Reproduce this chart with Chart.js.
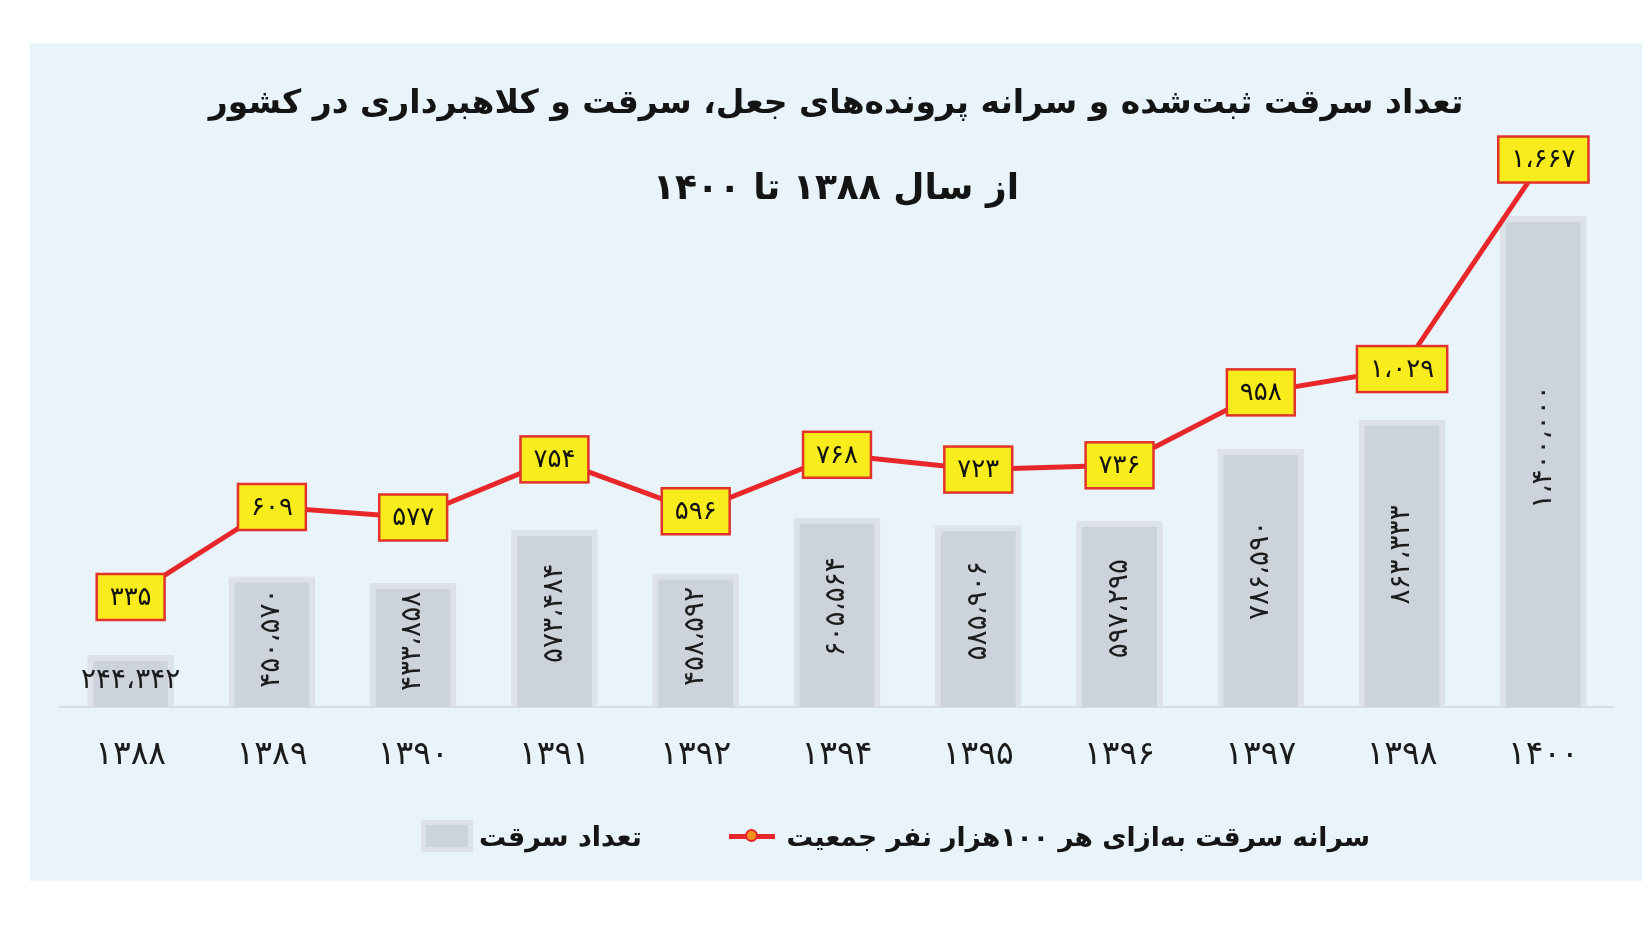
<!DOCTYPE html>
<html lang="fa">
<head>
<meta charset="utf-8">
<title>تعداد سرقت ثبت‌شده</title>
<script src="https://cdn.jsdelivr.net/npm/chart.js@4.4.1/dist/chart.umd.min.js"></script>
<style>
  html, body { margin: 0; padding: 0; background: #fff; }
  body { width: 1649px; height: 930px; position: relative; overflow: hidden; font-family: "DejaVu Sans", sans-serif; }
  #panel { position: absolute; left: 30px; top: 43px; width: 1612px; height: 838px; background: #e8f3fa; }
  #chartBox { position: absolute; left: 0; top: 0; width: 1612px; height: 838px; }
  .title { position: absolute; left: 0; width: 1612px; text-align: center; font-weight: bold; color: #141414; direction: rtl; white-space: nowrap; }
  .leg { position: absolute; display: flex; align-items: center; height: 40px; }
  .leg span { font-weight: bold; font-size: 27px; color: #151515; direction: rtl; white-space: nowrap; }
  .sw-bar { width: 42px; height: 22px; background: #cdd3da; border: 5px solid #dce2e7; margin-right: 6px; }
  .sw-line { position: relative; width: 46px; height: 5px; background: #e8272b; margin-right: 12px; }
  .sw-line i { position: absolute; left: 16px; top: -5px; width: 9px; height: 9px; border-radius: 50%; background: #f7941d; border: 2px solid #e8272b; }
</style>
</head>
<body>
<div id="panel">
  <div id="chartBox"><canvas id="myChart"></canvas></div>
  <div class="title" style="top:36px; font-size:33px; line-height:46px;">تعداد سرقت ثبت‌شده و سرانه پرونده‌های جعل، سرقت و کلاهبرداری در کشور</div>
  <div class="title" style="top:120px; font-size:36px; line-height:48px;">از سال ۱۳۸۸ تا ۱۴۰۰</div>
  <div class="leg" style="right:1000px; top:773px;"><div class="sw-bar"></div><span>تعداد سرقت</span></div>
  <div class="leg" style="right:272px; top:773px;"><div class="sw-line"><i></i></div><span style="font-size:26.5px;">سرانه سرقت به‌ازای هر ۱۰۰هزار نفر جمعیت</span></div>
</div>
<script>
'use strict';

// years (solar hijri), 1393 and 1399 are not in the source
let years = ['۱۳۸۸', '۱۳۸۹', '۱۳۹۰', '۱۳۹۱', '۱۳۹۲', '۱۳۹۴', '۱۳۹۵', '۱۳۹۶', '۱۳۹۷', '۱۳۹۸', '۱۴۰۰'];
let thefts = [244342, 450570, 433858, 573484, 458592, 605564, 585906, 597295, 786590, 863333, 1400000];
let perCapita = [335, 609, 577, 754, 596, 768, 723, 736, 958, 1029, 1667];

let barLabel = 'تعداد سرقت';
let lineLabel = 'سرانه سرقت به‌ازای هر ۱۰۰هزار نفر جمعیت';

// helper: latin number -> persian digits with arabic comma
function faNum( n ) {
  let digits = '۰۱۲۳۴۵۶۷۸۹';
  return n.toLocaleString( 'en-US' ).replace( /,/g, '،' ).replace( /\d/g, d => digits[d] );
}

let valueLabels = {
  id: 'valueLabels',
  afterDatasetsDraw( chart ) {
    let ctx = chart.ctx;
    let bottom = chart.chartArea.bottom;
    ctx.save();
    ctx.textAlign = 'center';
    ctx.textBaseline = 'middle';

    // numbers inside the bars (bars start below the visible axis, so cut at the area bottom)
    ctx.font = '28px "DejaVu Sans"';
    ctx.fillStyle = '#1c1c1c';
    chart.getDatasetMeta( 0 ).data.forEach( ( bar, i ) => {
      let txt = faNum( thefts[i] );
      let h = Math.min( bar.base, bottom ) - bar.y;
      let w = ctx.measureText( txt ).width;
      if( w < h - 8 ) {
        ctx.save();
        ctx.translate( bar.x, bar.y + h * 0.47 );
        ctx.rotate( -Math.PI / 2 );
        ctx.fillText( txt, 0, 0 );
        ctx.restore();
      } else {
        ctx.fillText( txt, bar.x, bar.y + h / 2 );
      }
    } );

    // yellow boxes on the line
    ctx.font = '26px "DejaVu Sans"';
    chart.getDatasetMeta( 1 ).data.forEach( ( pt, i ) => {
      let txt = faNum( perCapita[i] );
      let bw = Math.max( ctx.measureText( txt ).width + 26, 54 );
      let bh = 46;
      ctx.fillStyle = '#f8ec1c';
      ctx.fillRect( pt.x - bw / 2, pt.y - bh / 2, bw, bh );
      ctx.strokeStyle = '#e2322a';
      ctx.lineWidth = 2.5;
      ctx.strokeRect( pt.x - bw / 2, pt.y - bh / 2, bw, bh );
      ctx.fillStyle = '#111';
      ctx.fillText( txt, pt.x, pt.y + 1 );
    } );
    ctx.restore();
  }
};

let ctx = document.getElementById( 'myChart' ).getContext( '2d' );

let myChart = new Chart( ctx, {
  data: {
    labels: years,
    datasets: [
      {
        type: 'bar',
        label: barLabel,
        data: thefts,
        yAxisID: 'y',
        backgroundColor: '#cdd3da',
        borderColor: '#dce2e7',
        borderWidth: 6,
        borderSkipped: 'bottom',
        barThickness: 86,
        order: 2
      },
      {
        type: 'line',
        label: lineLabel,
        data: perCapita,
        yAxisID: 'y1',
        borderColor: '#e8272b',
        borderWidth: 5,
        pointRadius: 0,
        tension: 0,
        clip: false,
        order: 1
      }
    ]
  },
  options: {
    responsive: true,
    maintainAspectRatio: false,
    animation: false,
    layout: { padding: { left: 30, right: 28, top: 86, bottom: 0 } },
    plugins: {
      legend: { display: false },
      title: { display: false },
      tooltip: { enabled: false }
    },
    scales: {
      x: {
        grid: { display: false, drawTicks: false },
        border: { display: true, color: '#d6dde3', width: 2 },
        ticks: { font: { family: 'DejaVu Sans', size: 33 }, color: '#1b1b1b', padding: 29, maxRotation: 0 },
        afterFit( scale ) { scale.height = 174; }
      },
      y: { display: false, min: 108000, max: 1630000 },
      y1: { display: false, position: 'right', min: 0, max: 1760 }
    }
  },
  plugins: [ valueLabels ]
} );
</script>
</body>
</html>
